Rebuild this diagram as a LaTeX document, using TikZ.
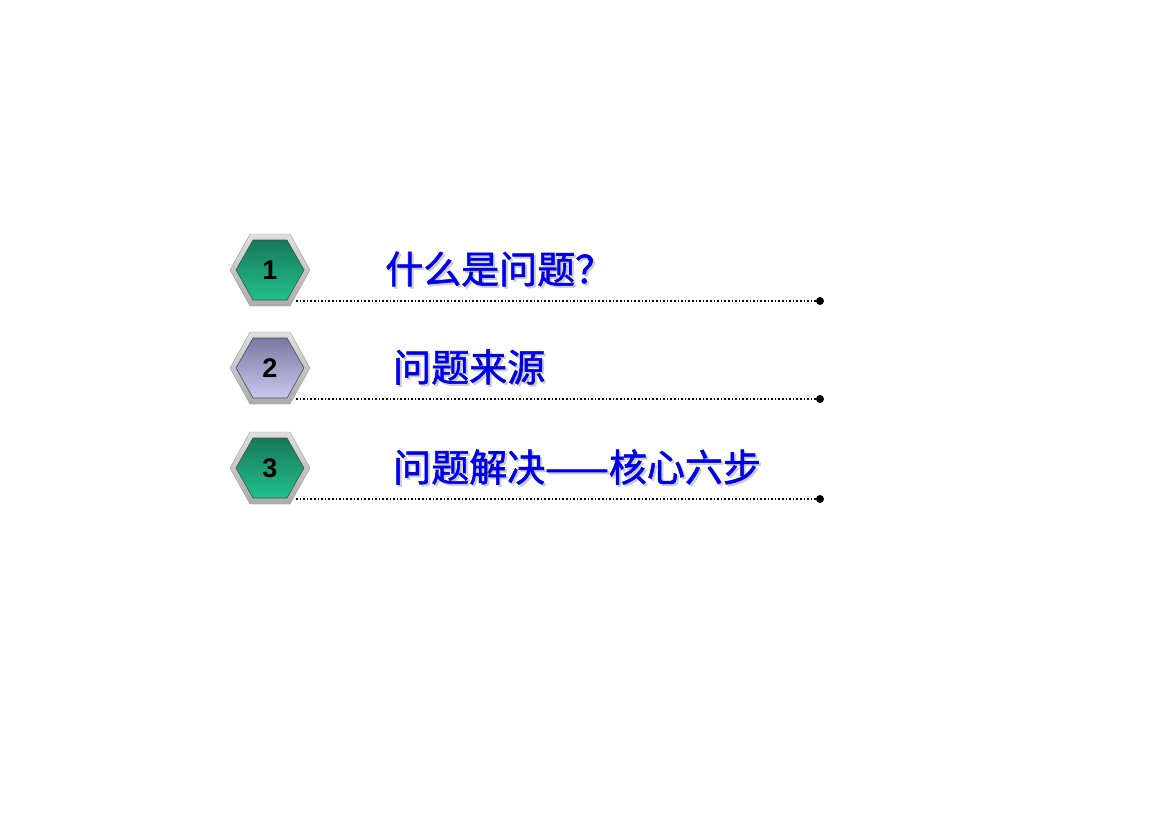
\documentclass[tikz,border=0pt]{standalone}
\usepackage{fontspec}
\setmainfont{Liberation Sans}
\newfontfamily\cjk[FakeBold=1.5]{Noto Sans CJK SC}
\definecolor{tA}{HTML}{17785A}
\definecolor{tB}{HTML}{22C08E}
\definecolor{pA}{HTML}{7A7AA0}
\definecolor{pB}{HTML}{C8C8F0}
\begin{document}
\begin{tikzpicture}[x=1pt,y=-1pt]
\tikzset{
 hexo/.style={draw=gray!80},
 hexi/.style={draw=black!70,line width=0.6pt},
 num/.style={font=\bfseries\fontsize{27}{27}\selectfont},
 ttl/.style={font=\cjk\fontsize{38}{38}\selectfont,text=blue!90!black,anchor=west,inner sep=0pt},
 shd/.style={font=\cjk\fontsize{38}{38}\selectfont,text=gray!40,anchor=west,inner sep=0pt},
 dots/.style={dotted,line width=1.6pt},
}
\useasboundingbox (0,0) rectangle (1169,827);
\fill[white] (0,0) rectangle (1169,827);
\foreach \i/\y/\ca/\cb/\t/\tx in {1/270/tA/tB/什么是问题？/385,2/368/pA/pB/问题来源/393,3/468/tA/tB/问题解决——核心六步/393}{
 \path[hexo,top color=gray!25,bottom color=gray!65] (230,\y) -- (250,\y-36) -- (290,\y-36) -- (310,\y) -- (290,\y+36) -- (250,\y+36) -- cycle;
 \path[hexi,top color=\ca,bottom color=\cb] (236,\y) -- (253,\y-30) -- (287,\y-30) -- (304,\y) -- (287,\y+30) -- (253,\y+30) -- cycle;
 \node[num] (n\i) at (270,\y) {\i};
 \node[shd] at (\tx+2,\y+1) {\t};
 \node[ttl] (t\i) at (\tx,\y-1) {\t};
 \coordinate (a\i) at (296,\y+31);
 \coordinate (b\i) at (820,\y+31);
 \draw[dots] (a\i) -- (b\i);
 \fill (b\i) circle (4);
}
\end{tikzpicture}
\end{document}
